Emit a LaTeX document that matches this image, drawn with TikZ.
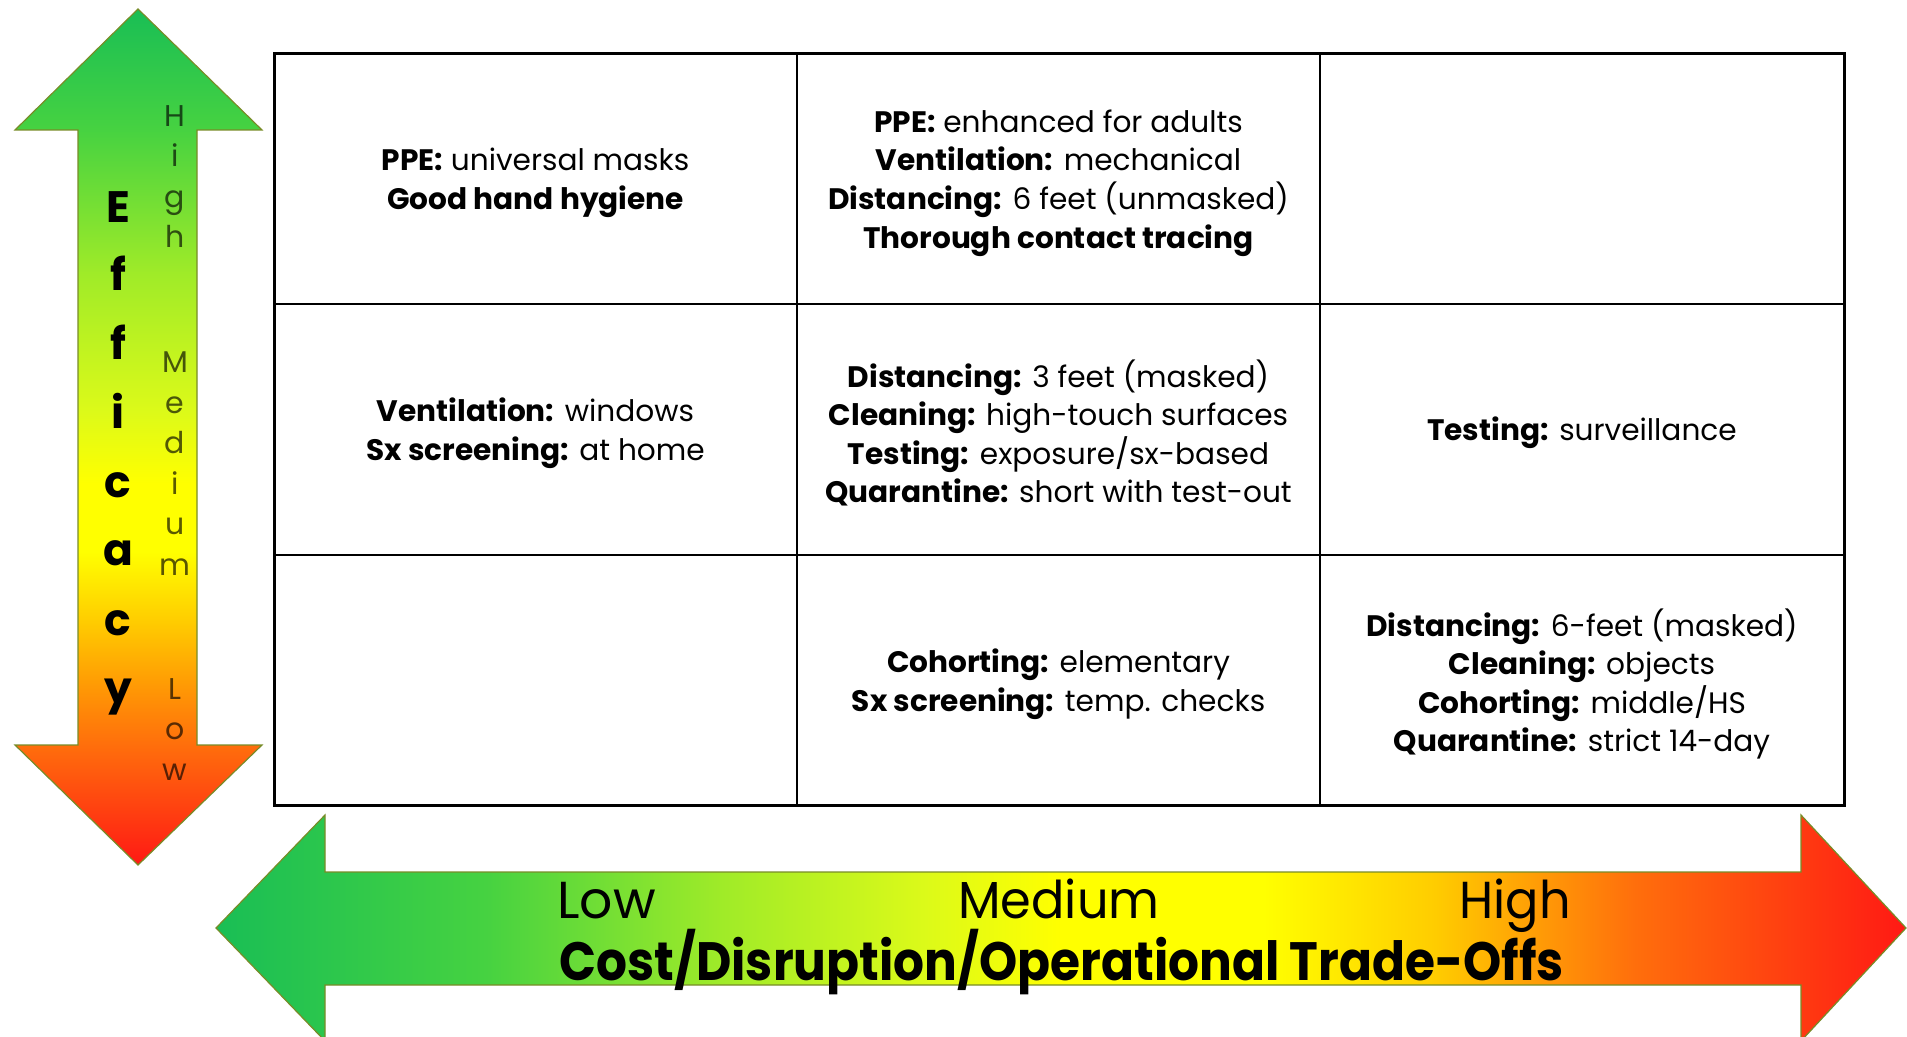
\documentclass[tikz,border=0pt]{standalone}
\usepackage{graphicx}
\usepackage{fontspec}
\setmainfont{Poppins}
\definecolor{aG}{RGB}{25,190,85}
\definecolor{aG2}{RGB}{70,210,65}
\definecolor{aL}{RGB}{160,235,40}
\definecolor{aLY}{RGB}{220,250,25}
\definecolor{aY}{RGB}{255,255,0}
\definecolor{aYO}{RGB}{255,205,0}
\definecolor{aOY}{RGB}{255,150,5}
\definecolor{aO}{RGB}{255,110,12}
\definecolor{aR}{RGB}{255,25,20}
\definecolor{edge}{RGB}{120,140,40}
\pgfdeclarehorizontalshading{costshade}{100bp}{color(0bp)=(aG); color(25bp)=(aG); color(33bp)=(aG2); color(40bp)=(aL); color(46bp)=(aLY); color(50bp)=(aY); color(56bp)=(aY); color(61bp)=(aYO); color(67bp)=(aO); color(75bp)=(aR); color(100bp)=(aR)}
\pgfdeclareverticalshading{effshade}{100bp}{color(0bp)=(aR); color(25bp)=(aR); color(32bp)=(aO); color(35.2bp)=(aOY); color(39.3bp)=(aYO); color(43.3bp)=(aY); color(47.3bp)=(aY); color(51.5bp)=(aLY); color(59.5bp)=(aL); color(68bp)=(aG2); color(75bp)=(aG); color(100bp)=(aG)}
\begin{document}
\begin{tikzpicture}[x=0.5pt,y=-0.5pt,
  cell/.style={align=center, inner sep=0pt, font=\fontsize{14.8}{19.3}\selectfont},
  bigletter/.style={inner sep=0pt, anchor=base, font=\fontsize{22}{22}\selectfont\bfseries},
  smallletter/.style={inner sep=0pt, anchor=base, text=black, text opacity=0.65, font=\fontsize{15}{15}\selectfont},
  axislabel/.style={inner sep=0pt, anchor=base west, font=\fontsize{26}{26}\selectfont},
  arrowedge/.style={draw=edge, line width=0.6pt, line join=miter}]
\useasboundingbox (0,0) rectangle (1907,1037);
% horizontal arrow
\begin{scope}
\clip (0,0) rectangle (1907,1037);
\shade[shading=costshade, arrowedge] (216,928) -- (325,815) -- (325,872) -- (1801,872) -- (1801,815) -- (1906,928) -- (1801,1041) -- (1801,985) -- (325,985) -- (325,1041) -- cycle;
\end{scope}
% vertical arrow
\shade[shading=effshade, arrowedge] (138,9) -- (262,130) -- (197,130) -- (197,745) -- (262,745) -- (138,865) -- (15,745) -- (78,745) -- (78,130) -- (15,130) -- cycle;
% Efficacy letters
\foreach \l/\yy [count=\i] in {E/222.5, f/291, f/360, i/428.7, c/497.4, a/566, c/635, y/703.6}
  \node[bigletter] (eff\i) at (118,\yy) {\l};
\foreach \l/\yy [count=\i] in {H/126.5, i/167, g/207.7, h/248, M/373, e/413.6, d/454, i/494.8, u/535, m/575.8, L/699, o/739.7, w/780}
  \node[smallletter] (lvl\i) at (175,\yy) {\l};
% cost labels
\node[axislabel] (low) at (557,918) {Low};
\node[axislabel] (med) at (958,918) {\scalebox{0.95}[1]{Medium}};
\node[axislabel] (high) at (1459,918) {\scalebox{0.95}[1]{High}};
\node[axislabel, font=\fontsize{27}{27}\selectfont\bfseries] (title) at (559,980) {\scalebox{0.9}[1]{Cost/Disruption/Operational Trade-Offs}};
% table
\draw[line width=1.5pt] (274,53.5) rectangle (1844,805);
\draw[line width=1.1pt] (797,53.5) -- (797,805) (1320,53.5) -- (1320,805) (274,304) -- (1844,304) (274,555) -- (1844,555);
% cells
\node[cell] (c11) at (535.5,183) {\textbf{PPE:} universal masks\\\textbf{Good hand hygiene}};
\node[cell] (c12) at (1058.5,183) {\textbf{PPE:} enhanced for adults\\\textbf{Ventilation:} mechanical\\\textbf{Distancing:} 6 feet (unmasked)\\\textbf{Thorough contact tracing}};
\node[cell] (c21) at (535.5,433) {\textbf{Ventilation:} windows\\\textbf{Sx screening:} at home};
\node[cell] (c22) at (1058.5,433) {\textbf{Distancing:} 3 feet (masked)\\\textbf{Cleaning:} high-touch surfaces\\\textbf{Testing:} exposure/sx-based\\\textbf{Quarantine:} short with test-out};
\node[cell] (c23) at (1582,433) {\textbf{Testing:} surveillance};
\node[cell] (c32) at (1058.5,684) {\textbf{Cohorting:} elementary\\\textbf{Sx screening:} temp. checks};
\node[cell] (c33) at (1582,684) {\textbf{Distancing:} 6-feet (masked)\\\textbf{Cleaning:} objects\\\textbf{Cohorting:} middle/HS\\\textbf{Quarantine:} strict 14-day};
\end{tikzpicture}
\end{document}
